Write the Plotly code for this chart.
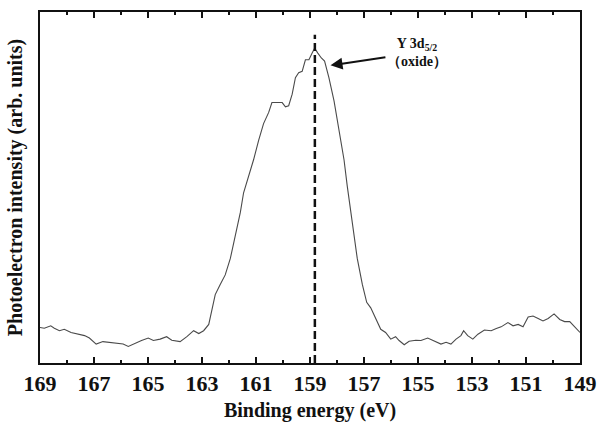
import plotly.graph_objects as go

# Binding energy (eV) and photoelectron intensity (arb. units, 0-100 frame scale)
energy = [169.0, 168.84, 168.6, 168.47, 168.28, 168.1, 167.85, 167.6, 167.35, 167.17,
          166.92, 166.67, 166.42, 166.17, 165.92, 165.73, 165.49, 165.24, 164.99, 164.8,
          164.55, 164.31, 164.12, 163.81, 163.56, 163.31, 163.12, 162.94, 162.75, 162.63,
          162.51, 162.33, 162.14, 161.95, 161.77, 161.58, 161.46, 161.27, 161.09, 160.9,
          160.72, 160.53, 160.41, 160.22, 160.03, 159.91, 159.79, 159.66, 159.54, 159.42,
          159.29, 159.17, 159.04, 158.92, 158.83, 158.71, 158.58, 158.46, 158.3, 158.11,
          157.93, 157.74, 157.62, 157.43, 157.25, 157.06, 156.9, 156.75, 156.57, 156.38,
          156.2, 156.01, 155.83, 155.7, 155.51, 155.33, 155.08, 154.89, 154.64, 154.46,
          154.15, 153.96, 153.78, 153.59, 153.41, 153.31, 153.16, 152.97, 152.78, 152.54,
          152.29, 152.1, 151.92, 151.67, 151.48, 151.29, 151.11, 150.92, 150.74, 150.55,
          150.37, 150.18, 149.96, 149.75, 149.57, 149.38, 149.19, 149.0]
intensity = [10.1, 9.9, 10.6, 9.9, 9.2, 9.6, 8.7, 8.2, 7.8, 7.1,
             5.4, 6.1, 5.9, 5.6, 5.4, 4.7, 5.6, 6.4, 7.1, 6.4,
             6.8, 7.5, 6.5, 6.1, 7.5, 9.2, 8.4, 9.2, 11.0, 14.8,
             19.5, 22.3, 25.1, 29.8, 36.3, 42.9, 48.5, 53.2, 57.9, 63.5,
             68.2, 71.4, 74.2, 74.2, 74.2, 73.0, 73.3, 76.6, 81.3, 82.7,
             83.1, 86.4, 86.4, 88.3, 89.7, 88.3, 86.9, 86.0, 81.3, 74.7,
             66.3, 57.9, 50.4, 39.1, 29.8, 22.3, 17.3, 15.7, 12.9, 9.6,
             8.7, 6.8, 7.5, 6.4, 5.2, 6.2, 6.5, 6.4, 7.1, 6.4,
             5.4, 5.9, 5.4, 6.8, 7.8, 9.2, 7.8, 6.8, 8.2, 9.4,
             9.2, 9.8, 10.3, 11.5, 10.6, 11.0, 10.3, 13.1, 13.4, 12.7,
             12.0, 12.7, 14.0, 12.4, 11.8, 11.8, 10.1, 8.7]

peak_position = 158.82
tick_values = [169, 167, 165, 163, 161, 159, 157, 155, 153, 151, 149]
tick_labels = [str(v) for v in tick_values]
minor_ticks = [168, 166, 164, 162, 160, 158, 156, 154, 152, 150]

serif = "Liberation Serif"
ink = "#111111"

fig = go.Figure()
fig.add_trace(go.Scatter(x=energy, y=intensity, mode="lines",
                         line=dict(color="#4a4a4a", width=1.1), showlegend=False))
fig.add_trace(go.Scatter(x=[peak_position, peak_position], y=[0, 93.5], mode="lines",
                         line=dict(color=ink, width=2.5, dash="8px,4px"),
                         showlegend=False))

fig.add_annotation(x=158.24, y=84.8, ax=155.04, ay=88.4, axref="x", ayref="y",
                   text="Y 3d<sub>5/2</sub><br>（oxide）", showarrow=True,
                   arrowhead=2, arrowsize=1.2, arrowwidth=2, arrowcolor=ink,
                   font=dict(family=serif, size=14, color=ink, weight="bold"))

fig.update_layout(
    width=608, height=428,
    margin=dict(l=40, r=28, t=10, b=62),
    paper_bgcolor="white", plot_bgcolor="white",
    font=dict(family=serif, color=ink),
    xaxis=dict(range=[169, 149], tickmode="array", tickvals=tick_values,
               ticktext=tick_labels, ticks="inside", ticklen=6, tickwidth=1.5,
               tickcolor=ink, showline=True, linewidth=2, linecolor=ink,
               mirror="allticks", showgrid=False, zeroline=False,
               tickfont=dict(family=serif, size=22, color=ink, weight="bold"),
               minor=dict(tickmode="array", tickvals=minor_ticks,
                          ticks="inside", ticklen=3, tickwidth=1.5, tickcolor=ink),
               title=dict(text="Binding energy (eV)", standoff=8,
                          font=dict(family=serif, size=20, color=ink, weight="bold"))),
    yaxis=dict(range=[0, 100], showticklabels=False, ticks="", showline=True,
               linewidth=2, linecolor=ink, mirror=True, showgrid=False,
               zeroline=False, automargin=False,
               title=dict(text="Photoelectron intensity (arb. units)", standoff=10,
                          font=dict(family=serif, size=20, color=ink, weight="bold"))),
)

fig.write_html("out.html")
